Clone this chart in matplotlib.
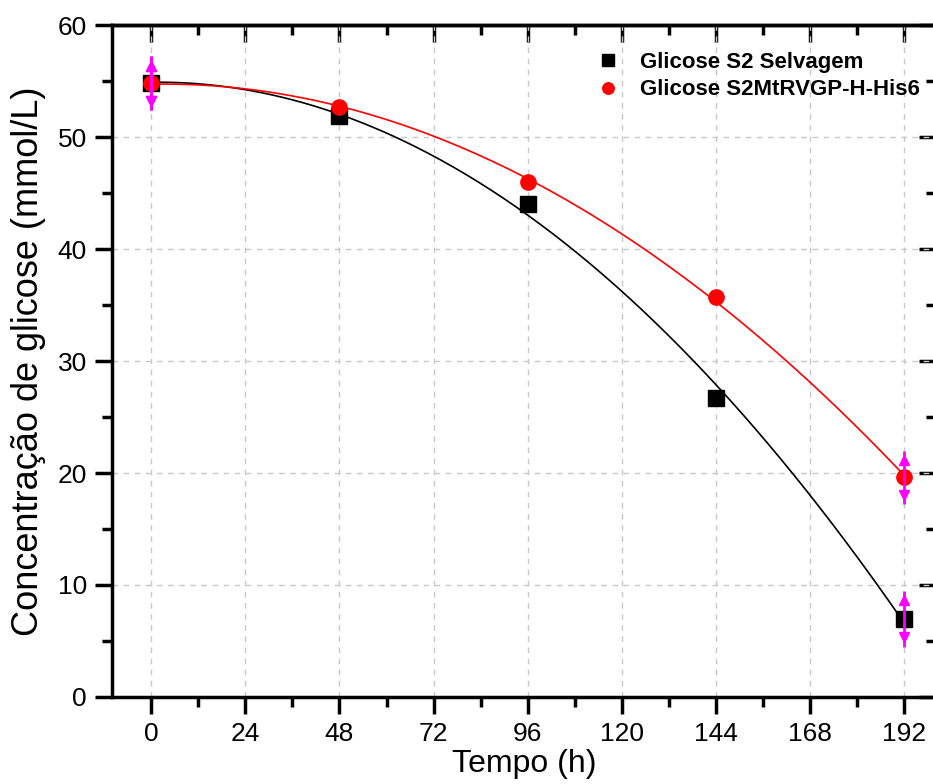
import numpy as np
import matplotlib
matplotlib.use("Agg")
import matplotlib.pyplot as plt
from matplotlib.ticker import MultipleLocator

plt.rcParams['font.family'] = ['Liberation Sans', 'DejaVu Sans']

# Dados de consumo de glicose
tempo = [0, 48, 96, 144, 192]
selvagem = [54.8, 51.9, 44.0, 26.7, 7.0]
selvagem_err = [2.4, 0, 0, 0, 2.5]
his = [54.8, 52.7, 46.0, 35.7, 19.6]
his_err = [2.4, 0, 0, 0, 2.4]

nome_selvagem = "Glicose S2 Selvagem"
nome_his = "Glicose S2MtRVGP-H-His6"

fig = plt.figure(figsize=(9.33, 7.84), dpi=100)
ax = fig.add_axes([0.120, 0.111, 0.883, 0.857])

# ajuste polinomial de 2a ordem
xs = np.linspace(0, 192, 300)
for y, cor in [(selvagem, 'black'), (his, 'red')]:
    coef = np.polyfit(tempo, y, 2)
    ax.plot(xs, np.polyval(coef, xs), color=cor, lw=1.2, zorder=3)

ax.plot(tempo, selvagem, 's', color='black', ms=11, zorder=4, label=nome_selvagem)
ax.plot(tempo, his, 'o', color='red', ms=11, zorder=4, label=nome_his)

# barras de erro com pontas de seta
for y, e in [(selvagem, selvagem_err), (his, his_err)]:
    y = np.array(y)
    e = np.array(e)
    m = e > 0
    t = np.array(tempo)[m]
    ax.errorbar(t, y[m], yerr=e[m], fmt='none', ecolor='magenta', elinewidth=2, capsize=0, zorder=5)
    ax.plot(t, y[m] + e[m] * 0.65, '^', color='magenta', ms=7, zorder=5)
    ax.plot(t, y[m] - e[m] * 0.65, 'v', color='magenta', ms=7, zorder=5)

ax.set_xlim(-10, 200)
ax.set_ylim(0, 60)
ax.xaxis.set_major_locator(MultipleLocator(24))
ax.xaxis.set_minor_locator(MultipleLocator(12))
ax.yaxis.set_major_locator(MultipleLocator(10))
ax.yaxis.set_minor_locator(MultipleLocator(5))

ax.grid(True, which='major', ls=(0, (4, 4)), color='#c8c8c8', lw=1)
ax.set_axisbelow(True)

for s in ax.spines.values():
    s.set_linewidth(2.5)
ax.tick_params(which='major', direction='out', length=12, width=2.5, labelsize=19, pad=6)
ax.tick_params(which='minor', direction='out', length=7, width=2.5)

# eixos espelhados no topo e à direita, ticks para dentro
top = ax.secondary_xaxis('top')
top.xaxis.set_major_locator(MultipleLocator(24))
top.xaxis.set_minor_locator(MultipleLocator(12))
top.tick_params(which='major', direction='in', length=12, width=2.5, labeltop=False)
top.tick_params(which='minor', direction='in', length=7, width=2.5)
top.spines['top'].set_linewidth(2.5)
right = ax.secondary_yaxis('right')
right.yaxis.set_major_locator(MultipleLocator(10))
right.yaxis.set_minor_locator(MultipleLocator(5))
right.tick_params(which='major', direction='in', length=12, width=2.5, labelright=False)
right.tick_params(which='minor', direction='in', length=7, width=2.5)
right.spines['right'].set_linewidth(2.5)

ax.set_xlabel("Tempo (h)", fontsize=23, labelpad=2)
ax.set_ylabel("Concentração de glicose (mmol/L)", fontsize=26, labelpad=8)

ax.legend(loc='upper left', bbox_to_anchor=(0.564, 0.99), frameon=False,
          prop={'weight': 'bold', 'size': 16},
          handletextpad=0.95, labelspacing=0.3, markerscale=0.75, handlelength=1.0)

fig.savefig("out.png", dpi=100)
